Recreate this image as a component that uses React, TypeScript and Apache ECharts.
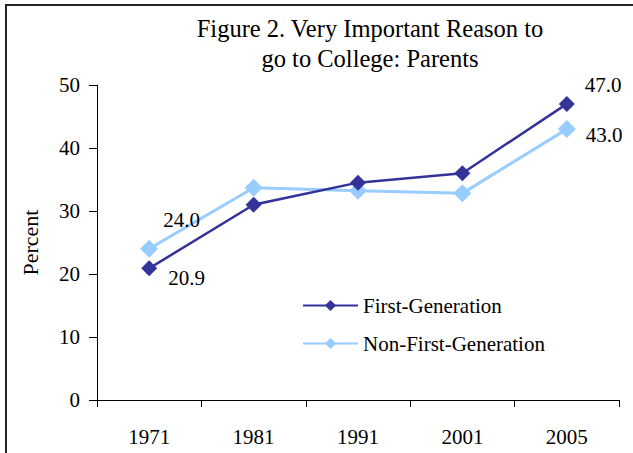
import React, { useEffect, useRef } from "react";
import * as echarts from "echarts";

const categories = ["1971", "1981", "1991", "2001", "2005"];
const firstGen = [20.9, 31.0, 34.5, 36.0, 47.0];
const nonFirstGen = [24.0, 33.7, 33.2, 32.8, 43.0];
const seriesNames = ["First-Generation", "Non-First-Generation"];
const titleLines = ["Figure 2. Very Important Reason to", "go to College: Parents"];

const FONT = "'Liberation Serif', 'Times New Roman', serif";

function labelled(values: number[], offsets: Record<number, number[]>) {
  return values.map((v, i) =>
    offsets[i]
      ? {
          value: v,
          label: {
            show: true,
            position: "right",
            offset: offsets[i],
            formatter: (p: any) => Number(p.value).toFixed(1),
            fontFamily: FONT,
            fontSize: 21,
            color: "#000",
          },
        }
      : v
  );
}

export default function App() {
  const ref = useRef<HTMLDivElement>(null);
  useEffect(() => {
    if (!ref.current) return;
    const chart = echarts.init(ref.current, null, { renderer: "svg" });
    chart.setOption({
      animation: false,
      backgroundColor: "#fff",
      textStyle: { fontFamily: FONT },
      title: {
        text: titleLines.join("\n"),
        left: 365,
        top: 8,
        textAlign: "center",
        textStyle: { fontFamily: FONT, fontSize: 24.5, fontWeight: "normal", color: "#000", lineHeight: 30 },
      },
      legend: {
        orient: "vertical",
        left: 297,
        top: 290,
        itemWidth: 55,
        itemHeight: 14,
        itemGap: 17,
        textStyle: { fontFamily: FONT, fontSize: 21, color: "#000", padding: [0, 0, 0, 0] },
        data: seriesNames,
      },
      grid: { left: 97, right: 14, top: 85, bottom: 53, containLabel: false },
      xAxis: {
        type: "category",
        data: categories,
        boundaryGap: true,
        axisLine: { lineStyle: { color: "#000", width: 1 } },
        axisTick: { show: true, length: 7, lineStyle: { color: "#000" } },
        axisLabel: { fontFamily: FONT, fontSize: 21, color: "#000", margin: 26 },
      },
      yAxis: {
        type: "value",
        min: 0,
        max: 50,
        interval: 10,
        name: "Percent",
        nameLocation: "middle",
        nameGap: 56,
        nameTextStyle: { fontFamily: FONT, fontSize: 22, color: "#000" },
        axisLine: { show: true, lineStyle: { color: "#000", width: 1 } },
        axisTick: { show: true, length: 8, lineStyle: { color: "#000" } },
        splitLine: { show: false },
        axisLabel: { fontFamily: FONT, fontSize: 21, color: "#000", margin: 17 },
      },
      series: [
        {
          name: seriesNames[0],
          type: "line",
          data: labelled(firstGen, { 0: [6, 10], 4: [5, -19] }),
          symbol: "diamond",
          symbolSize: 16,
          lineStyle: { color: "#333399", width: 2.5 },
          itemStyle: { color: "#333399" },
          z: 3,
        },
        {
          name: seriesNames[1],
          type: "line",
          data: labelled(nonFirstGen, { 0: [0, -29], 4: [5, 6] }),
          symbol: "diamond",
          symbolSize: 18,
          lineStyle: { color: "#99CCFF", width: 3 },
          itemStyle: { color: "#99CCFF" },
          z: 2,
        },
      ],
      graphic: [
        {
          type: "rect",
          shape: { x: 6, y: 5, width: 700, height: 500 },
          style: { fill: "none", stroke: "#222", lineWidth: 2 },
          silent: true,
        },
      ],
    });
    return () => chart.dispose();
  }, []);
  return (
    <div
      ref={ref}
      style={{ position: "fixed", left: 0, top: 0, width: 633, height: 453 }}
    />
  );
}
